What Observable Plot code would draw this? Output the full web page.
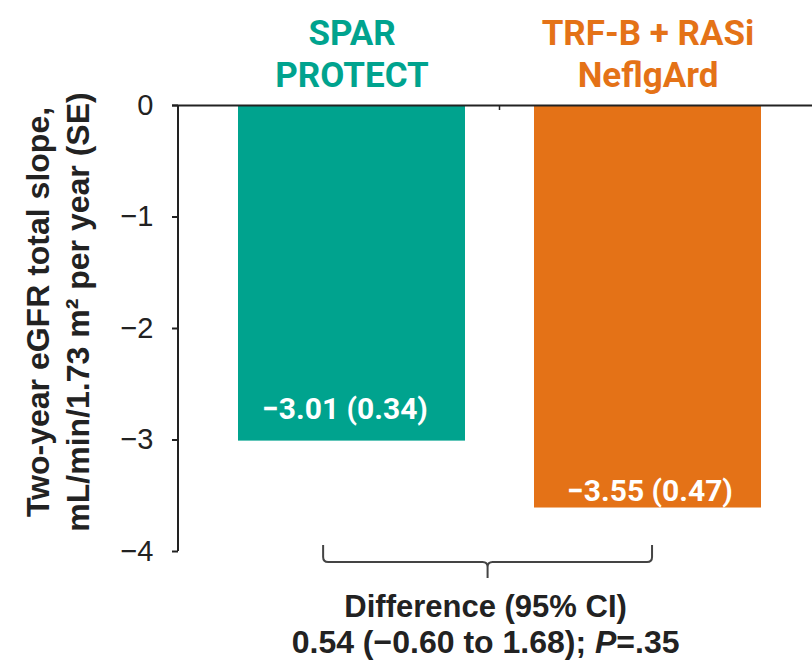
<!DOCTYPE html>
<html>
<head>
<meta charset="utf-8">
<script src="https://cdn.jsdelivr.net/npm/d3@7"></script>
<script src="https://cdn.jsdelivr.net/npm/@observablehq/plot@0.6"></script>
<style>
  body { margin: 0; background: #fff; }
  #chart svg { display: block; }
</style>
</head>
<body>
<div id="chart"></div>
<script>
// ---- data ----
const groups = ["SPAR\nPROTECT", "TRF-B + RASi\nNeflgArd"];
const slopes = [-3.01, -3.61];            // bar ends as drawn
const slopeLabels = ["−3.01 (0.34)", "−3.55 (0.47)"];
const yTicks = [0, -1, -2, -3, -4];
const yTitle = ["Two-year eGFR total slope,", "mL/min/1.73 m² per year (SE)"];
const diffTitle = "Difference (95% CI)";
const diffText = ["0.54 (−0.60 to 1.68); ", "P", "=.35"];

// ---- styles ----
const palette = ["#00A38E", "#E47217"];
const ink = "#222";
const sans = "'Liberation Sans', Arial, sans-serif";
const headFont = "Roboto, 'Liberation Sans', sans-serif";

const rows = groups.map((g, i) => ({group: g, slope: slopes[i], label: slopeLabels[i]}));

function annotations(index, scales, values, dimensions) {
  const x = scales.x, y = scales.y;
  const bw = typeof x.bandwidth === "function" ? x.bandwidth() : x.bandwidth;
  const ns = "http://www.w3.org/2000/svg";
  const g = d3.select(document.createElementNS(ns, "g"));
  const x0 = x(groups[0]), x1 = x(groups[1]);
  const yBottom = y(-4), yZero = y(0);
  const left = dimensions.marginLeft;

  // y axis line
  g.append("line").attr("x1", left).attr("x2", left).attr("y1", yZero).attr("y2", yBottom)
    .attr("stroke", ink).attr("stroke-width", 2);
  // separator tick between categories
  const sep = (x0 + bw + x1) / 2;
  g.append("line").attr("x1", sep).attr("x2", sep).attr("y1", yZero).attr("y2", yZero + 5)
    .attr("stroke", ink).attr("stroke-width", 1.5);

  // brace
  const L = x0 + 0.375 * bw, R = x1 + 0.52 * bw, M = (L + R) / 2;
  const yt = yBottom - 6, yh = yBottom + 11, yd = yBottom + 27;
  const p = `M${L},${yt} L${L},${yh - 5} Q${L},${yh} ${L + 5},${yh} L${M - 5},${yh} Q${M},${yh} ${M},${yh + 5} L${M},${yd}`
          + ` M${M},${yh + 5} Q${M},${yh} ${M + 5},${yh} L${R - 5},${yh} Q${R},${yh} ${R},${yh - 5} L${R},${yt}`;
  g.append("path").attr("d", p).attr("fill", "none").attr("stroke", "#444").attr("stroke-width", 2);

  // difference text
  const tx = M - 2;
  g.append("text").attr("x", tx).attr("y", yBottom + 66).attr("text-anchor", "middle")
    .attr("font-family", sans).attr("font-weight", "bold").attr("font-size", 31).attr("fill", ink)
    .text(diffTitle);
  const t2 = g.append("text").attr("x", tx).attr("y", yBottom + 102).attr("text-anchor", "middle")
    .attr("font-family", sans).attr("font-weight", "bold").attr("font-size", 32).attr("fill", ink);
  t2.append("tspan").text(diffText[0]);
  t2.append("tspan").attr("font-style", "italic").text(diffText[1]);
  t2.append("tspan").text(diffText[2]);

  // y title (rotated, two lines)
  const yc = (yZero + yBottom) / 2 - 16;
  const tg = g.append("g").attr("transform", `translate(57,${yc}) rotate(-90)`);
  yTitle.forEach((line, i) => {
    tg.append("text").attr("x", 0).attr("y", (i === 0 ? -20 : 20)).attr("dy", "0.36em")
      .attr("text-anchor", "middle").attr("font-family", sans).attr("font-weight", "bold")
      .attr("font-size", 32).attr("fill", ink).text(line);
  });
  return g.node();
}

const chart = Plot.plot({
  width: 812,
  height: 663,
  marginTop: 105,
  marginBottom: 112,
  marginLeft: 178,
  marginRight: 0,
  style: {fontFamily: sans, background: "#fff", color: ink},
  x: {domain: groups, range: [177.6, 821.4], paddingInner: 0.232, paddingOuter: 0.2, axis: null},
  y: {domain: [-4, 0]},
  color: {domain: groups, range: palette},
  marks: [
    Plot.barY(rows, {x: "group", y1: 0, y2: "slope", fill: "group"}),
    Plot.ruleY([0], {stroke: ink, strokeWidth: 2, insetLeft: -6}),
    Plot.axisY(yTicks, {
      tickSize: 6, tickPadding: 19, fontSize: 29, stroke: ink, strokeWidth: 2,
      tickFormat: d => (d < 0 ? "−" + Math.abs(d) : String(d)), label: null
    }),
    Plot.text([rows[0]], {x: "group", y: "slope", text: "label", dy: -32, dx: -7,
      fill: "white", fontSize: 30, fontWeight: "bold", fontFamily: headFont}),
    Plot.text([rows[1]], {x: "group", y: "slope", text: "label", dy: -17, dx: 2,
      fill: "white", fontSize: 30, fontWeight: "bold", fontFamily: headFont}),
    Plot.text(rows, {x: "group", text: "group", frameAnchor: "top", lineAnchor: "top", dy: -90,
      fill: "group", fontSize: 35, fontWeight: "bold", fontFamily: headFont, lineHeight: 1.2}),
    annotations
  ]
});
document.getElementById("chart").appendChild(chart);
</script>
</body>
</html>
